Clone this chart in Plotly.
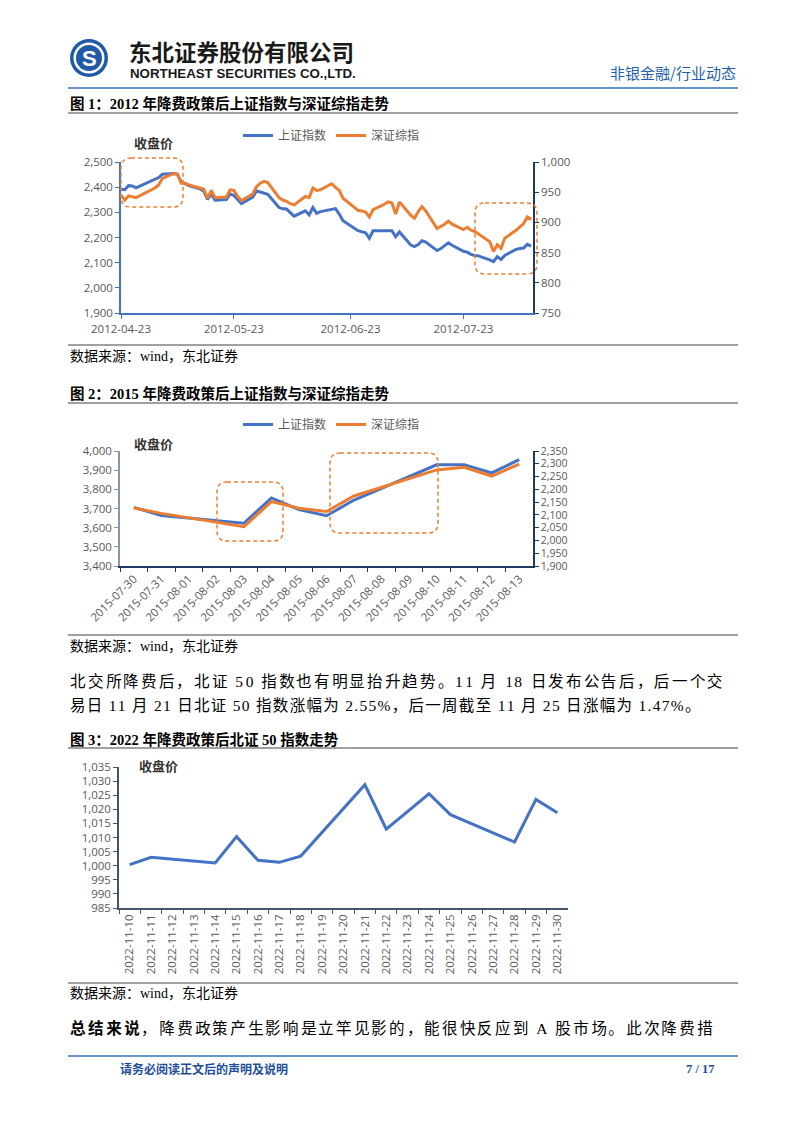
import plotly.graph_objects as go

W, H = 802, 1133

# ---------------- data ----------------
dates_2012 = ['2012-04-23','2012-04-24','2012-04-25','2012-04-26','2012-04-27',
              '2012-05-02','2012-05-03','2012-05-04','2012-05-07','2012-05-08','2012-05-09','2012-05-10','2012-05-11',
              '2012-05-14','2012-05-15','2012-05-16','2012-05-17','2012-05-18','2012-05-21','2012-05-22','2012-05-23',
              '2012-05-24','2012-05-25','2012-05-28','2012-05-29','2012-05-30','2012-05-31','2012-06-01',
              '2012-06-04','2012-06-05','2012-06-06','2012-06-07','2012-06-08','2012-06-11','2012-06-12','2012-06-13',
              '2012-06-14','2012-06-15','2012-06-18','2012-06-19','2012-06-20','2012-06-21',
              '2012-06-25','2012-06-26','2012-06-27','2012-06-28','2012-06-29',
              '2012-07-02','2012-07-03','2012-07-04','2012-07-05','2012-07-06',
              '2012-07-09','2012-07-10','2012-07-11','2012-07-12','2012-07-13',
              '2012-07-16','2012-07-17','2012-07-18','2012-07-19','2012-07-20',
              '2012-07-23','2012-07-24','2012-07-25','2012-07-26','2012-07-27',
              '2012-07-30','2012-07-31','2012-08-01','2012-08-02','2012-08-03',
              '2012-08-06','2012-08-07','2012-08-08','2012-08-09','2012-08-10']
sh_2012 = [2392, 2390, 2406, 2405, 2397,
           2431, 2438, 2451, 2454, 2451, 2421, 2414, 2406,
           2393, 2384, 2351, 2372, 2348, 2351, 2373, 2367,
           2351, 2335, 2360, 2385, 2381, 2375, 2372,
           2319, 2314, 2313, 2298, 2285, 2306, 2290, 2319,
           2296, 2303, 2313, 2315, 2293, 2267,
           2227, 2223, 2219, 2197, 2227,
           2227, 2228, 2227, 2203, 2222,
           2170, 2164, 2172, 2187, 2182,
           2148, 2156, 2166, 2179, 2169,
           2145, 2142, 2133, 2128, 2127,
           2111, 2104, 2124, 2113, 2129,
           2153, 2156, 2158, 2173, 2166]
sz_2012 = [945, 937, 944, 943, 941,
           957, 962, 973, 981, 980, 965, 965, 962,
           957, 955, 940, 953, 941, 942, 954, 953,
           943, 936, 947, 959, 965, 968, 966,
           941, 937, 935, 931, 929, 943, 941, 957,
           953, 954, 964, 958, 953, 940,
           920, 919, 917, 909, 921,
           930, 934, 932, 914, 934,
           912, 907, 918, 926, 919,
           890, 893, 897, 902, 897,
           888, 892, 887, 885, 881,
           868, 852, 863, 857, 874,
           887, 893, 898, 909, 905]
ticks_2012 = ['2012-04-23', '2012-05-23', '2012-06-23', '2012-07-23']

dates_2015 = ['2015-07-30','2015-07-31','2015-08-01','2015-08-02','2015-08-03','2015-08-04','2015-08-05',
              '2015-08-06','2015-08-07','2015-08-08','2015-08-09','2015-08-10','2015-08-11','2015-08-12','2015-08-13']
sh_2015 = [3706, 3664, None, None, 3623, 3755, 3694, 3662, 3744, None, None, 3928, 3928, 3886, 3955]
sz_2015 = [2127, 2106, None, None, 2054, 2152, 2126, 2113, 2174, None, None, 2276, 2286, 2252, 2299]

dates_2022 = ['2022-11-10','2022-11-11','2022-11-12','2022-11-13','2022-11-14','2022-11-15','2022-11-16',
              '2022-11-17','2022-11-18','2022-11-19','2022-11-20','2022-11-21','2022-11-22','2022-11-23',
              '2022-11-24','2022-11-25','2022-11-26','2022-11-27','2022-11-28','2022-11-29','2022-11-30']
bz50_2022 = [1000.4, 1003.0, None, None, 1001.0, 1010.3, 1001.9, 1001.2, 1003.4, None, None,
             1028.7, 1013.0, 1019.3, 1025.5, 1018.1, None, None, 1008.4, 1023.5, 1018.8]

name_sh = '上证指数'
name_sz = '深证综指'

# ---------------- helpers ----------------
def px(x):
    return x / W

def py(y):
    return 1 - y / H

BLUE = '#4472C4'
ORANGE = '#ED7D31'
NAVY = '#1F3864'
TICKF = dict(family='Open Sans, Noto Sans CJK SC', size=11.5, color='#595959')
SERIF = 'Liberation Serif, Noto Sans CJK SC'
CJK = 'Noto Sans CJK SC'
LEGF = dict(family='Open Sans, Noto Sans CJK SC', size=12, color='#595959')

fig = go.Figure()

# chart 1
fig.add_trace(go.Scatter(x=dates_2012, y=sh_2012, name=name_sh, mode='lines',
                         line=dict(color=BLUE, width=3), xaxis='x', yaxis='y', legend='legend'))
fig.add_trace(go.Scatter(x=dates_2012, y=sz_2012, name=name_sz, mode='lines',
                         line=dict(color=ORANGE, width=3), xaxis='x', yaxis='y2', legend='legend'))
# chart 2
fig.add_trace(go.Scatter(x=dates_2015, y=sh_2015, name=name_sh, mode='lines', connectgaps=True,
                         line=dict(color=BLUE, width=3), xaxis='x2', yaxis='y3', legend='legend2'))
fig.add_trace(go.Scatter(x=dates_2015, y=sz_2015, name=name_sz, mode='lines', connectgaps=True,
                         line=dict(color=ORANGE, width=3), xaxis='x2', yaxis='y4', legend='legend2'))
# chart 3
fig.add_trace(go.Scatter(x=dates_2022, y=bz50_2022, name='北证50', mode='lines', connectgaps=True,
                         line=dict(color=BLUE, width=3), xaxis='x3', yaxis='y5', showlegend=False))

axis_common = dict(showgrid=False, zeroline=False, showline=True, ticks='outside', ticklen=4,
                   tickfont=TICKF, linewidth=1.5, automargin=False)

fig.update_layout(
    template='none',
    width=W, height=H, autosize=False,
    margin=dict(l=0, r=0, t=0, b=0, pad=0),
    paper_bgcolor='white', plot_bgcolor='white',
    xaxis=dict(axis_common, type='date', domain=[px(121), px(533)], anchor='y',
               range=['2012-04-23', '2012-08-10 12:00'], tickvals=ticks_2012, ticktext=ticks_2012,
               linecolor=BLUE, tickcolor=BLUE),
    yaxis=dict(axis_common, domain=[py(313), py(162)], anchor='x', range=[1900, 2500], dtick=100,
               tickformat=',', linecolor=BLUE, tickcolor=BLUE),
    yaxis2=dict(axis_common, overlaying='y', side='right', anchor='x', range=[750, 1000], dtick=50,
                tickformat=',', linecolor=NAVY, tickcolor=NAVY),
    xaxis2=dict(axis_common, type='category', domain=[px(120), px(533)], anchor='y3',
                range=[-0.5, 14.5], tickson='boundaries', tickangle=-45,
                linecolor=NAVY, tickcolor=NAVY),
    yaxis3=dict(axis_common, domain=[py(566), py(451)], anchor='x2', range=[3400, 4000], dtick=100,
                tickformat=',', linecolor='#8497B0', tickcolor='#8497B0'),
    yaxis4=dict(axis_common, overlaying='y3', side='right', anchor='x2', range=[1900, 2350], dtick=50,
                tickformat=',', linecolor=NAVY, tickcolor=NAVY,
                tickfont=dict(family='Open Sans, Noto Sans CJK SC', size=10.5, color='#595959')),
    xaxis3=dict(axis_common, type='category', domain=[px(119), px(568)], anchor='y5',
                range=[-0.5, 20.5], tickson='boundaries', tickangle=-90,
                linecolor='#44546A', tickcolor='#44546A'),
    yaxis5=dict(axis_common, domain=[py(908), py(767)], anchor='x3', range=[985, 1035], dtick=5,
                tickformat=',', linecolor='#44546A', tickcolor='#44546A'),
    legend=dict(orientation='h', x=px(238), y=py(121), xanchor='left', yanchor='top',
                font=LEGF, bgcolor='rgba(0,0,0,0)', itemwidth=30),
    legend2=dict(orientation='h', x=px(238), y=py(410), xanchor='left', yanchor='top',
                 font=LEGF, bgcolor='rgba(0,0,0,0)', itemwidth=30),
)

shapes = []
annotations = []

def hline(y, x0=68, x1=738, color='#808080', width=1.5):
    shapes.append(dict(type='line', xref='paper', yref='paper', x0=px(x0), x1=px(x1), y0=py(y), y1=py(y),
                       line=dict(color=color, width=width)))

def rrect(x0, y0, x1, y1, r=10):
    rx, ry = r / W, r / H
    X0, X1, Y0, Y1 = px(x0), px(x1), py(y0), py(y1)
    path = (f'M {X0+rx},{Y0} L {X1-rx},{Y0} Q {X1},{Y0} {X1},{Y0-ry} L {X1},{Y1+ry} '
            f'Q {X1},{Y1} {X1-rx},{Y1} L {X0+rx},{Y1} Q {X0},{Y1} {X0},{Y1+ry} '
            f'L {X0},{Y0-ry} Q {X0},{Y0} {X0+rx},{Y0} Z')
    shapes.append(dict(type='path', xref='paper', yref='paper', path=path,
                       line=dict(color=ORANGE, width=1.5, dash='4px,3px')))

def text(x, y, s, size=14, family=SERIF, color='black', xanchor='left'):
    annotations.append(dict(x=px(x), y=py(y), xref='paper', yref='paper', text=s, showarrow=False,
                            xanchor=xanchor, yanchor='middle', font=dict(size=size, family=family, color=color)))

def circle(cx, cy, r, color):
    shapes.append(dict(type='circle', xref='paper', yref='paper', x0=px(cx - r), x1=px(cx + r),
                       y0=py(cy + r), y1=py(cy - r), fillcolor=color, line=dict(width=0)))

def spread(s, seps):
    out = s[0]
    for i, ch in enumerate(s[1:]):
        out += seps[i % len(seps)] + ch
    return out

HAIR, SIX = '\u200a', '\u2006'

# header
circle(89, 58, 19, '#1F5AA6')
circle(89, 58, 15.5, 'white')
circle(89, 58, 13, '#1F5AA6')
text(89, 58, '<b>S</b>', size=22, family='Liberation Sans', color='white', xanchor='center')
text(127, 51, '<b>东北证券股份有限公司</b>', size=22.5, family=CJK, color='#1a1a1a')
text(128, 73, '<b>NORTHEAST SECURITIES CO.,LTD.</b>', size=13.3, family='Liberation Sans', color='#1a1a1a')
text(738, 72, '非银金融/行业动态', size=15, family=CJK, color='#1F5FA8', xanchor='right')
hline(88, color='#2E75B6', width=1.5)

# chart 1 texts
text(68, 103, '<b>图 1：2012 年降费政策后上证指数与深证综指走势</b>', size=14.5)
hline(113)
text(132, 143, '<b>收盘价</b>', size=13, family=CJK, color='#333333')
rrect(121, 158, 183, 207)
rrect(475, 203, 537, 274)
hline(345)
text(68, 356, '数据来源：wind，东北证券', size=14)

# chart 2 texts
text(68, 393, '<b>图 2：2015 年降费政策后上证指数与深证综指走势</b>', size=14.5)
hline(403)
text(132, 443, '<b>收盘价</b>', size=13, family=CJK, color='#333333')
rrect(217, 482, 283, 541)
rrect(330, 453, 438, 533)
hline(635)
text(68, 646, '数据来源：wind，东北证券', size=14)

# paragraph (justified look)
line1 = '北交所降费后，北证 50 指数也有明显抬升趋势。11 月 18 日发布公告后，后一个交'
line2 = '易日 11 月 21 日北证 50 指数涨幅为 2.55%，后一周截至 11 月 25 日涨幅为 1.47%。'
text(68, 681, spread(line1, [SIX, SIX, HAIR]), size=15.5)
text(68, 705, spread(line2, [HAIR]), size=15.5)

# chart 3 texts
text(68, 739, '<b>图 3：2022 年降费政策后北证 50 指数走势</b>', size=14.5)
hline(748)
text(137, 765, '<b>收盘价</b>', size=13, family=CJK, color='#333333')
hline(983)
text(68, 993, '数据来源：wind，东北证券', size=14)

# conclusion
text(68, 1028, '<b>' + spread('总结来说', [SIX]) + '</b>' + HAIR + '，' + SIX +
     spread('降费政策产生影响是立竿见影的，能很快反应到 A 股市场。此次降费措', [SIX, SIX, HAIR]), size=15.5)

# footer
hline(1056, color='#2E75B6', width=1.5)
text(118, 1069, '<b>请务必阅读正文后的声明及说明</b>', size=12, color='#1F4E99')
text(716, 1069, '<b>7 / 17</b>', size=12.5, color='#1F4E99', xanchor='right')

fig.update_layout(shapes=shapes, annotations=annotations)

fig.write_html('out.html')
